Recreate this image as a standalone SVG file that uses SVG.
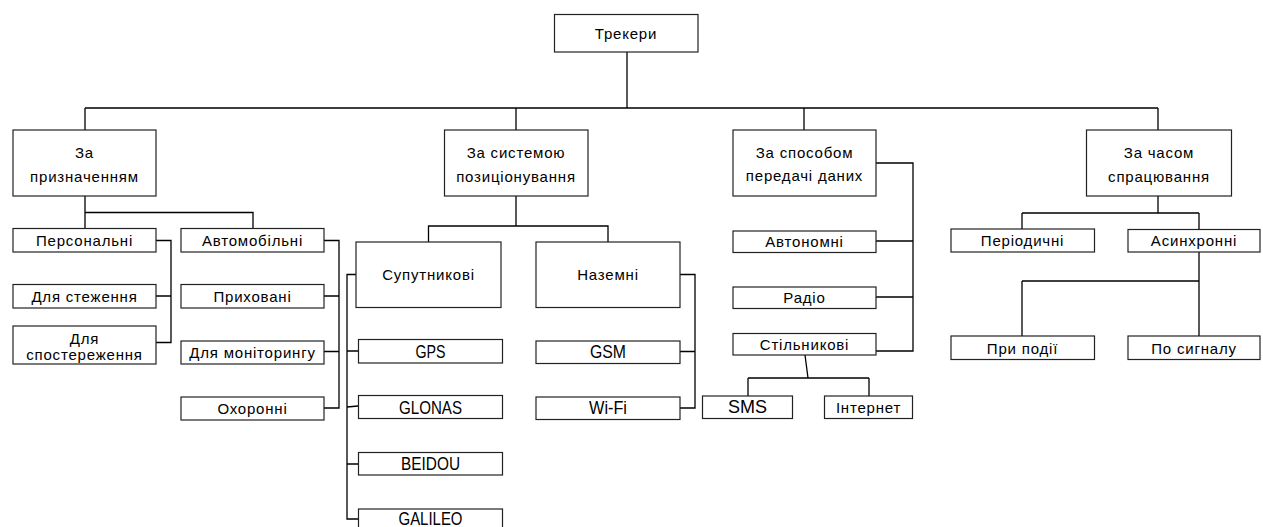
<svg xmlns="http://www.w3.org/2000/svg" width="1263" height="527" viewBox="0 0 1263 527">
<style>
rect{fill:#fff;stroke:#222;stroke-width:1.2}
text{font-family:"Liberation Sans",Arial,sans-serif;font-size:15px;fill:#000;text-anchor:middle;letter-spacing:0.8px}
text.lat{font-size:18px;letter-spacing:0}
#connectors path{fill:none;stroke:#000;stroke-width:1.3}
</style>
<rect x="0" y="0" width="1263" height="527" style="fill:#fff;stroke:none"/>
<g id="connectors">
<path d="M627 52V108M85 108H1158M85 108V130M516 108V130M804 108V130M1158 108V130"/>
<path d="M85 196V212.5H253V228M85 212.5V228"/>
<path d="M156 240.5H171V342.5H156M156 296H171"/>
<path d="M324 240.5H339V408H324M324 296H339M324 351.5H339"/>
<path d="M516 196V226H428.5V242M516 226H608V242"/>
<path d="M356 274.5H347V519H358M347 351H358M347 407L358 406M347 464H358"/>
<path d="M680 274.5H695V408H680M680 351.5H695"/>
<path d="M876 163H913V351H876M876 241H913M876 297H913"/>
<path d="M805 355L808 378M748 378H869M748 378V396M869 378V396"/>
<path d="M1158 196V213M1022 213H1199M1022 213V229M1199 213V229"/>
<path d="M1199 252V336M1022 281H1199M1022 281V336"/>
</g>
<g id="n-trekery"><rect x="554.5" y="14.5" width="143.5" height="37.5"/><text x="626" y="38.5">Трекери</text></g>
<g id="n-pryznach"><rect x="13" y="130" width="143" height="66"/><text x="84.5" y="158">За</text><text x="84.5" y="182">призначенням</text></g>
<g id="n-systema"><rect x="444.5" y="130" width="143.5" height="66"/><text x="516" y="158">За системою</text><text x="516" y="182">позиціонування</text></g>
<g id="n-sposib"><rect x="733" y="130" width="143" height="66"/><text x="804.5" y="158">За способом</text><text x="804.5" y="181">передачі даних</text></g>
<g id="n-chas"><rect x="1086.5" y="130" width="145" height="66"/><text x="1159" y="158">За часом</text><text x="1159" y="182">спрацювання</text></g>
<g id="n-personalni"><rect x="13" y="228.5" width="143" height="23.5"/><text x="84.5" y="246">Персональні</text></g>
<g id="n-sterezh"><rect x="13" y="284.5" width="143" height="23.5"/><text x="84.5" y="301.5">Для стеження</text></g>
<g id="n-sposterezh"><rect x="13" y="326" width="143" height="38"/><text x="84.5" y="344">Для</text><text x="84.5" y="360">спостереження</text></g>
<g id="n-avto"><rect x="181" y="228.5" width="143" height="23.5"/><text x="252.5" y="246">Автомобільні</text></g>
<g id="n-pryhovani"><rect x="181" y="284.5" width="143" height="23.5"/><text x="252.5" y="301.5">Приховані</text></g>
<g id="n-monitor"><rect x="181" y="341" width="143" height="23"/><text x="252.5" y="357.5">Для моніторингу</text></g>
<g id="n-ohoronni"><rect x="181" y="397" width="143" height="23"/><text x="252.5" y="413.5">Охоронні</text></g>
<g id="n-suputn"><rect x="356" y="242" width="145" height="65.5"/><text x="428.5" y="280">Супутникові</text></g>
<g id="n-nazemni"><rect x="536" y="242" width="144" height="65.5"/><text x="608" y="280">Наземні</text></g>
<g id="n-gps"><rect x="358.5" y="339.5" width="144" height="23.5"/><text class="lat" x="430.5" y="357.5" textLength="30" lengthAdjust="spacingAndGlyphs">GPS</text></g>
<g id="n-glonas"><rect x="358.5" y="395.5" width="144" height="23"/><text class="lat" x="430.5" y="413.5" textLength="63" lengthAdjust="spacingAndGlyphs">GLONAS</text></g>
<g id="n-beidou"><rect x="358.5" y="452.5" width="144" height="22.5"/><text class="lat" x="430.5" y="470" textLength="59" lengthAdjust="spacingAndGlyphs">BEIDOU</text></g>
<g id="n-galileo"><rect x="358.5" y="509" width="144" height="26"/><text class="lat" x="430.5" y="524.5" textLength="64" lengthAdjust="spacingAndGlyphs">GALILEO</text></g>
<g id="n-gsm"><rect x="536" y="341" width="144" height="22.5"/><text class="lat" x="608" y="358" textLength="36" lengthAdjust="spacingAndGlyphs">GSM</text></g>
<g id="n-wifi"><rect x="536" y="397" width="144" height="22.5"/><text class="lat" x="608" y="414" textLength="38" lengthAdjust="spacingAndGlyphs">Wi-Fi</text></g>
<g id="n-avtonomni"><rect x="733" y="231" width="143" height="21.5"/><text x="804.5" y="246.5">Автономні</text></g>
<g id="n-radio"><rect x="733" y="287" width="143" height="21.5"/><text x="804.5" y="302.5">Радіо</text></g>
<g id="n-stilnykovi"><rect x="733" y="333.5" width="143" height="21.5"/><text x="804.5" y="349.5">Стільникові</text></g>
<g id="n-sms"><rect x="702.5" y="396" width="90" height="22.5"/><text class="lat" x="747.5" y="413" textLength="39" lengthAdjust="spacingAndGlyphs">SMS</text></g>
<g id="n-internet"><rect x="824.5" y="396" width="88" height="22.5"/><text x="868.5" y="413">Інтернет</text></g>
<g id="n-periodychni"><rect x="951" y="229" width="143.5" height="23"/><text x="1022.5" y="246">Періодичні</text></g>
<g id="n-asynhronni"><rect x="1128" y="229.5" width="132" height="22.5"/><text x="1194" y="246">Асинхронні</text></g>
<g id="n-podii"><rect x="951" y="336" width="143.5" height="23.5"/><text x="1022.5" y="353.5">При події</text></g>
<g id="n-syhnal"><rect x="1128" y="336" width="132" height="23.5"/><text x="1194" y="353.5">По сигналу</text></g>
</svg>
